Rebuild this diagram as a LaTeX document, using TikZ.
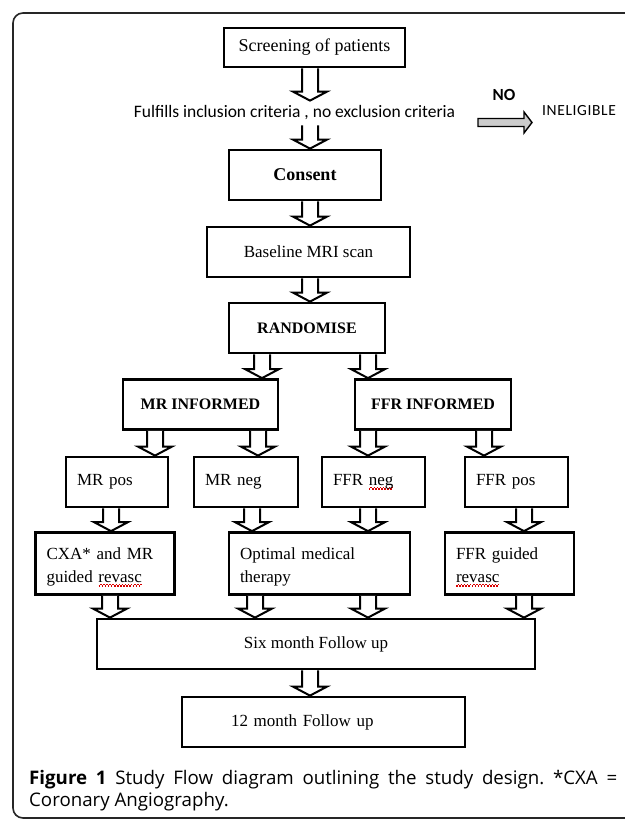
\documentclass[tikz,border=0pt]{standalone}
\usepackage{fontspec}
\setmainfont{Liberation Serif}
\newfontfamily\notefont{Carlito}
\newfontfamily\captionfont{Open Sans}
\usetikzlibrary{positioning, calc}

% red spell-check wave under a word
\newsavebox\spellbox
\newcommand{\spellmark}[1]{%
  \leavevmode\sbox\spellbox{#1}%
  \rlap{\textcolor{red!85!black}{\raisebox{-4pt}{\xleaders\hbox to 3pt{\rule{1.5pt}{1.1pt}\rule[1.1pt]{1.5pt}{1.1pt}}\hskip\wd\spellbox}}}%
  #1}
% taller first line, pushes two-line box text down a little
\newcommand{\toppad}{\rule{0pt}{19pt}}

% hollow block arrow straight down from one box to the next, at a given x
\newcommand{\flowarrow}[3]{%
  \draw[blockarrow]
    ($(#3,0 |- #1.south)+(-8,0)$) -- ($(#3,0 |- #2.north)+(-8,-9)$)
    -- ++(-9,0) -- (#3,0 |- #2.north) -- ++(17,-9)
    -- ++(-9,0) -- ($(#3,0 |- #1.south)+(8,0)$);
}

\begin{document}
\begin{tikzpicture}[
    x=1pt, y=-1pt,
    stage/.style={
      draw=black,
      line width=2.8pt,
      fill=white,
      minimum height=50pt,
      inner sep=0pt,
      font=\fontsize{17}{23}\selectfont,
    },
    stagebold/.style={
      stage,
      font=\fontsize{16}{20}\selectfont\bfseries,
    },
    leftstage/.style={
      stage,
      align=left,
      inner xsep=11pt,
    },
    note/.style={
      font=\notefont\fontsize{17.5}{21}\selectfont,
      inner sep=0pt,
    },
    blockarrow/.style={
      draw=black,
      line width=2pt,
      fill=white,
      line join=miter,
    },
  ]

  \useasboundingbox (0,0) rectangle (624,819);
  \fill[white] (0,0) rectangle (624,819);

  % --- Outer frame (runs off the right edge) ---
  \draw[line width=1.6pt, black!85, rounded corners=10pt] (13,13) rectangle (700,818);

  % --- Screening and eligibility ---
  \node[stage, minimum width=181pt, minimum height=39pt,
        font=\fontsize{18}{22}\selectfont] (screen) at (314.5,47.5) {Screening of patients};
  \node[note, inner ysep=5pt] (criteria) at (294.5,113)
    {Fulfills inclusion criteria , no exclusion criteria};
  \node[note, font=\notefont\fontsize{17}{20}\selectfont\bfseries] (no) at (504,95) {NO};
  \node[note, anchor=west, font=\notefont\fontsize{15.5}{18}\selectfont\addfontfeatures{LetterSpace=4}]
    (inelig) at (542,111) {INELIGIBLE};

  % --- Main column ---
  \node[stagebold, minimum width=152pt, font=\fontsize{18}{22}\selectfont\bfseries]
    (consent) at (305,175) {Consent};
  \node[stage, minimum width=203pt] (baseline) at (308.5,252) {Baseline MRI scan};
  \node[stagebold, minimum width=156pt] (randomise) at (307,328) {RANDOMISE};

  % --- Two arms ---
  \node[stagebold, minimum width=155pt] (mrinf) at (200.5,404.5) {MR INFORMED};
  \node[stagebold, minimum width=156pt] (ffrinf) at (433,404.5) {FFR INFORMED};

  % --- Test results ---
  \node[leftstage, text width=80pt] (mrpos) at (117,482) {MR pos};
  \node[leftstage, text width=82pt] (mrneg) at (246,482) {MR neg};
  \node[leftstage, text width=81pt] (ffrneg) at (373.5,482) {FFR \spellmark{neg}};
  \node[leftstage, text width=81pt] (ffrpos) at (516.5,482) {FFR pos};

  % --- Treatment ---
  \node[leftstage, text width=117pt, minimum height=62pt] (cxa) at (105,563.5)
    {\toppad CXA* and MR\\guided \spellmark{revasc}};
  \node[leftstage, text width=159pt, minimum height=62pt] (medical) at (319.5,563.5)
    {\toppad Optimal medical\\therapy};
  \node[leftstage, text width=107pt, minimum height=62pt] (ffrguided) at (509.5,563.5)
    {\toppad FFR guided\\\spellmark{revasc}};

  % --- Follow up ---
  \node[stage, minimum width=438pt] (sixmonth) at (316,644) {Six month Follow up};
  \node[stage, align=left, text width=185pt, inner xsep=49pt] (twelvemonth) at (323.5,722)
    {12 month Follow up};

  % --- Block arrows ---
  \flowarrow{screen}{criteria}{310}
  \flowarrow{criteria}{consent}{310}
  \flowarrow{consent}{baseline}{310}
  \flowarrow{baseline}{randomise}{310}
  \flowarrow{randomise}{mrinf}{262}
  \flowarrow{randomise}{ffrinf}{368}
  \flowarrow{mrinf}{mrpos}{155}
  \flowarrow{mrinf}{mrneg}{258}
  \flowarrow{ffrinf}{ffrneg}{368}
  \flowarrow{ffrinf}{ffrpos}{484}
  \flowarrow{mrpos}{cxa}{111}
  \flowarrow{mrneg}{medical}{252}
  \flowarrow{ffrneg}{medical}{368}
  \flowarrow{ffrpos}{ffrguided}{524}
  \flowarrow{cxa}{sixmonth}{110}
  \flowarrow{medical}{sixmonth}{255}
  \flowarrow{medical}{sixmonth}{368}
  \flowarrow{ffrguided}{sixmonth}{524}
  \flowarrow{sixmonth}{twelvemonth}{310}

  % --- Ineligible branch (grey arrow) ---
  \coordinate (notail) at (478,122.5);
  \coordinate (notip) at ($(inelig.west |- notail)+(-10,0)$);
  \draw[blockarrow, fill=black!20, line width=1.4pt]
    ($(notail)+(0,-4)$) -- ($(notip)+(-8,-4)$) -- ($(notip)+(-8,-10.5)$)
    -- (notip) -- ($(notip)+(-8,10.5)$) -- ($(notip)+(-8,4)$)
    -- ($(notail)+(0,4)$) -- cycle;

  % --- Caption ---
  \node[anchor=north west, text width=588pt, align=justify, inner sep=0pt,
        font=\captionfont\fontsize{18.7}{22}\selectfont\frenchspacing] (caption) at (29,770)
    {\textbf{Figure 1} Study Flow diagram outlining the study design. *CXA =\linebreak
     Coronary Angiography.};

\end{tikzpicture}
\end{document}
